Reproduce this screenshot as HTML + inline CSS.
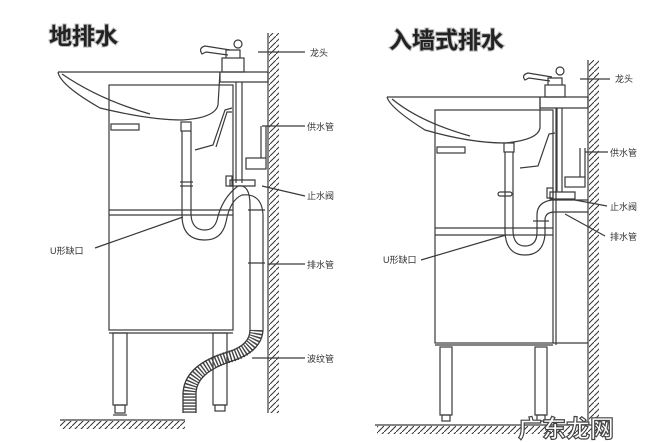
<!DOCTYPE html>
<html><head><meta charset="utf-8"><style>
html,body{margin:0;padding:0;background:#fff;}
svg{display:block;}
.t{font-family:"Liberation Sans","Noto Sans CJK SC",sans-serif;}
</style></head><body>
<svg width="655" height="442" viewBox="0 0 655 442" xmlns="http://www.w3.org/2000/svg">
<defs>
<pattern id="h" width="6" height="6" patternUnits="userSpaceOnUse">
<line x1="0" y1="6" x2="6" y2="0" stroke="#333" stroke-width="1"/>
</pattern>
</defs>
<rect width="655" height="442" fill="#fff"/>
<g fill="none" stroke="#3a3a3a" stroke-width="1.2">
<!-- LEFT -->
<rect x="269" y="33" width="10" height="380" fill="url(#h)" stroke="none"/>
<line x1="268" y1="33" x2="268" y2="413"/>
<rect x="60" y="421" width="125" height="8" fill="url(#h)" stroke="none"/>
<line x1="60" y1="420" x2="185" y2="420"/>
<path d="M58 72 L268 72 L268 82 L220 82 L220 72"/>
<path d="M58 72 Q60 85 100 108 Q150 120 182 120 Q215 118 218 105 L220 72"/>
<path d="M62 74 Q100 100 150 114"/>
<rect x="109" y="85" width="124" height="245"/>
<line x1="109" y1="210" x2="233" y2="210"/><line x1="109" y1="215" x2="233" y2="215"/>
<rect x="111" y="124" width="28" height="6"/>
<line x1="109" y1="333" x2="233" y2="333"/>
<rect x="113" y="333" width="14" height="72"/><rect x="115" y="405" width="10" height="8"/><line x1="113" y1="415" x2="127" y2="415"/>
<rect x="213" y="333" width="14" height="72"/><rect x="215" y="405" width="10" height="6"/>
<rect x="222" y="58" width="22" height="14"/>
<path d="M226 58 L226 50 L240 50 L240 58"/>
<path d="M230 50 L205 46 Q198 48 202 54 L206 52 L228 55"/>
<circle cx="238" cy="44" r="4"/>
<rect x="181" y="122" width="10" height="9"/>
<path d="M182 131 L182 215 Q182 240 205 240 Q222 240 226 222 Q230 200 242 195 Q262 193 263 215 L263 330"/>
<path d="M191 131 L191 215 Q192 230 205 230 Q214 230 217 220 Q222 198 238 186 Q250 184 250 205 L250 330"/>
<line x1="180" y1="182" x2="193" y2="182"/><line x1="180" y1="186" x2="193" y2="186"/>
<line x1="248" y1="210" x2="265" y2="210"/><line x1="248" y1="263" x2="265" y2="263"/>
<!-- corrugated hose -->
<path d="M256.5 330 Q256 348 232 356 Q189 368 189.5 395 L189.5 413" stroke="#444" stroke-width="12" stroke-dasharray="1.4 1.6"/>
<path d="M263 330 Q262 350 235 360 Q195 372 196 395 L196 413" stroke-width="1.3"/>
<path d="M250 330 Q250 345 228 352 Q183 365 183 395 L183 413" stroke-width="1.3"/>
<line x1="236" y1="82" x2="236" y2="183"/><line x1="242" y1="82" x2="242" y2="183"/>
<path d="M230 186 L255 186 L255 180 L230 180 Z"/>
<rect x="226" y="176" width="6" height="10"/>
<rect x="246" y="158" width="20" height="11"/>
<line x1="261" y1="126" x2="261" y2="158"/><line x1="266" y1="126" x2="266" y2="158"/>
<path d="M232 108 L225 110 L213 145 L195 150"/>
<path d="M232 112 L227 112 L216 147"/>
<line x1="258" y1="52" x2="305" y2="52"/>
<line x1="262" y1="126" x2="305" y2="126"/>
<line x1="262" y1="186" x2="305" y2="196"/>
<line x1="268" y1="264" x2="305" y2="264"/>
<line x1="252" y1="358" x2="305" y2="358"/>
<line x1="95" y1="248" x2="183" y2="217"/>

<!-- RIGHT -->
<rect x="589" y="60" width="10" height="362" fill="url(#h)" stroke="none"/>
<line x1="588" y1="60" x2="588" y2="422"/>
<rect x="377" y="426" width="225" height="8" fill="url(#h)" stroke="none"/>
<line x1="375" y1="425" x2="602" y2="425"/>
<path d="M387 97 L588 97 L588 108 L540 108 L540 97"/>
<path d="M387 97 Q390 108 425 130 Q470 143 505 143 Q538 140 540 128 L540 97"/>
<path d="M392 99 Q420 122 470 136"/>
<rect x="435" y="110" width="118" height="233"/>
<line x1="435" y1="228" x2="553" y2="228"/><line x1="435" y1="235" x2="553" y2="235"/>
<rect x="437" y="147" width="28" height="6"/>
<line x1="435" y1="345" x2="553" y2="345"/>
<line x1="556" y1="108" x2="556" y2="345"/>
<line x1="553" y1="343" x2="588" y2="343"/>
<rect x="440" y="347" width="12" height="68"/><rect x="442" y="415" width="8" height="6"/>
<rect x="535" y="347" width="12" height="68"/><rect x="537" y="415" width="8" height="6"/>
<rect x="545" y="85" width="20" height="12"/>
<path d="M548 85 L548 78 L562 78 L562 85"/>
<path d="M552 77 L528 73 Q521 75 525 80 L529 78 L550 81"/>
<circle cx="560" cy="71" r="4"/>
<rect x="504" y="143" width="10" height="9"/>
<path d="M505 152 L505 232 Q506 255 525 255 Q543 255 545 235 L545 220 Q545 212 555 212 L588 212"/>
<path d="M513 152 L513 232 Q514 246 525 246 Q537 246 537 232 L537 215 Q537 202 552 200 L588 200"/>
<rect x="498" y="192" width="14" height="4" rx="2"/>
<line x1="533" y1="221" x2="549" y2="221"/>
<line x1="557" y1="108" x2="557" y2="192"/><line x1="562" y1="108" x2="562" y2="192"/>
<path d="M550 192 L575 192 L575 199 L550 199 Z"/>
<rect x="547" y="188" width="6" height="10"/>
<rect x="565" y="177" width="20" height="10"/>
<line x1="580" y1="148" x2="580" y2="177"/><line x1="585" y1="148" x2="585" y2="177"/>
<path d="M555 133 L549 134 L538 166 L520 168"/>
<line x1="580" y1="79" x2="610" y2="79"/>
<line x1="585" y1="152" x2="608" y2="152"/>
<line x1="575" y1="200" x2="607" y2="206"/>
<line x1="565" y1="214" x2="605" y2="236"/>
<line x1="421" y1="260" x2="506" y2="235"/>
</g>
<g fill="#333" class="t" font-size="9">
<text x="310" y="56">龙头</text>
<text x="307" y="130">供水管</text>
<text x="307" y="199">止水阀</text>
<text x="307" y="268">排水管</text>
<text x="307" y="362">波纹管</text>
<text x="50" y="254">U形缺口</text>
<text x="615" y="82">龙头</text>
<text x="610" y="156">供水管</text>
<text x="610" y="210">止水阀</text>
<text x="610" y="240">排水管</text>
<text x="383" y="263">U形缺口</text>
</g>
<g class="t" font-weight="bold" fill="#222" stroke="#bbb" stroke-width="2" paint-order="stroke">
<text x="49" y="44" font-size="23">地排水</text>
<text x="389" y="48" font-size="23">入墙式排水</text>
</g>
<text x="518" y="437" class="t" font-size="24" font-weight="bold" fill="#fff" stroke="#444" stroke-width="1.2">广东龙网</text>
</svg>
</body></html>
